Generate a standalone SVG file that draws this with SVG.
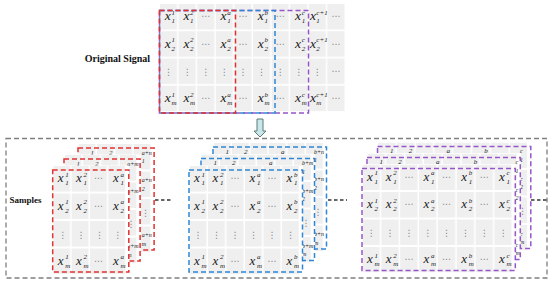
<svg xmlns="http://www.w3.org/2000/svg" width="550" height="284" viewBox="0 0 550 284">
<style>
.t{font-family:"Liberation Serif","Times New Roman",serif;font-weight:bold;font-size:9px;fill:#111}
.tl{font-size:10px}
.x{font-family:"Liberation Serif","Times New Roman",serif;font-style:italic;font-size:13px;fill:#1a1a1a}
.xt{font-size:13.5px}
.s{font-family:"Liberation Serif","Times New Roman",serif;font-style:italic;font-size:7px;fill:#1a1a1a}
.l{font-family:"Liberation Serif","Times New Roman",serif;font-style:italic;font-size:6px;fill:#1a1a1a}
.h{font-family:"DejaVu Sans",sans-serif;font-size:9px;fill:#8a8a8a;text-anchor:middle}
.bg{fill:#fff}
.dr{fill:none;stroke-width:1.5;stroke-dasharray:5 3}
.red{stroke:#e2312f}
.blu{stroke:#2f86d6}
.pur{stroke:#9656c9}
.out{fill:none;stroke:#7f7f7f;stroke-width:1.3;stroke-dasharray:5 3}
.con{fill:none;stroke:#333;stroke-width:1.3;stroke-dasharray:3.5 2.5}
.arr{fill:#c9e7e9;stroke:#5a7a7a;stroke-width:1}
</style>
<defs>
<pattern id="gT" patternUnits="userSpaceOnUse" x="160" y="4" width="18.6" height="27.25"><rect width="18.6" height="27.25" fill="#fff"/><rect width="17.1" height="25.5" fill="#efefef"/></pattern>
<pattern id="gR" patternUnits="userSpaceOnUse" x="0.5" y="-4" width="18.4" height="27.5"><rect width="18.4" height="27.5" fill="#fff"/><rect width="16.9" height="25.5" fill="#efefef"/></pattern>
<pattern id="gB" patternUnits="userSpaceOnUse" x="0.5" y="-4" width="18.5" height="27.5"><rect width="18.5" height="27.5" fill="#fff"/><rect width="17" height="25.5" fill="#efefef"/></pattern>
<pattern id="gP" patternUnits="userSpaceOnUse" x="0.5" y="-4" width="18.85" height="27.5"><rect width="18.85" height="27.5" fill="#fff"/><rect width="17.35" height="25.5" fill="#efefef"/></pattern>
</defs>

<!-- Original signal -->
<g id="original-signal">
<text class="t tl" x="150" y="62" text-anchor="end">Original Signal</text>
<rect x="160" y="4" width="186" height="107.5" fill="url(#gT)"/>
<text class="x xt" y="20.25"><tspan x="164.8">x</tspan><tspan x="183.4">x</tspan><tspan x="220.6">x</tspan><tspan x="257.8">x</tspan><tspan x="295">x</tspan><tspan x="310">x</tspan></text>
<text class="s"><tspan x="171.5" y="14.75">1</tspan><tspan x="171.5" y="23.25">1</tspan><tspan x="190.1" y="14.75">2</tspan><tspan x="190.1" y="23.25">1</tspan><tspan x="227.3" y="14.75">a</tspan><tspan x="227.3" y="23.25">1</tspan><tspan x="264.5" y="14.75">b</tspan><tspan x="264.5" y="23.25">1</tspan><tspan x="301.7" y="14.75">c</tspan><tspan x="301.7" y="23.25">1</tspan><tspan x="316.3" y="14.75">c+1</tspan><tspan x="316.3" y="23.25">1</tspan></text>
<text class="h" y="19.45"><tspan x="205.75">⋯</tspan><tspan x="242.95">⋯</tspan><tspan x="280.15">⋯</tspan><tspan x="335.95">⋯</tspan></text>
<text class="x xt" y="47.5"><tspan x="164.8">x</tspan><tspan x="183.4">x</tspan><tspan x="220.6">x</tspan><tspan x="257.8">x</tspan><tspan x="295">x</tspan><tspan x="310">x</tspan></text>
<text class="s"><tspan x="171.5" y="42">1</tspan><tspan x="171.5" y="50.5">2</tspan><tspan x="190.1" y="42">2</tspan><tspan x="190.1" y="50.5">2</tspan><tspan x="227.3" y="42">a</tspan><tspan x="227.3" y="50.5">2</tspan><tspan x="264.5" y="42">b</tspan><tspan x="264.5" y="50.5">2</tspan><tspan x="301.7" y="42">c</tspan><tspan x="301.7" y="50.5">2</tspan><tspan x="316.3" y="42">c+1</tspan><tspan x="316.3" y="50.5">2</tspan></text>
<text class="h" y="46.7"><tspan x="205.75">⋯</tspan><tspan x="242.95">⋯</tspan><tspan x="280.15">⋯</tspan><tspan x="335.95">⋯</tspan></text>
<text class="h" y="75.25"><tspan x="168.55">⋮</tspan><tspan x="187.15">⋮</tspan><tspan x="205.75">⋮</tspan><tspan x="224.35">⋮</tspan><tspan x="242.95">⋮</tspan><tspan x="261.55">⋮</tspan><tspan x="280.15">⋮</tspan><tspan x="298.75">⋮</tspan><tspan x="317.35">⋮</tspan></text>
<text class="h" x="335.95" y="73.95">⋯</text>
<text class="x xt" y="102"><tspan x="164.8">x</tspan><tspan x="183.4">x</tspan><tspan x="220.6">x</tspan><tspan x="257.8">x</tspan><tspan x="295">x</tspan><tspan x="310">x</tspan></text>
<text class="s"><tspan x="171.5" y="96.5">1</tspan><tspan x="171.5" y="105">m</tspan><tspan x="190.1" y="96.5">2</tspan><tspan x="190.1" y="105">m</tspan><tspan x="227.3" y="96.5">a</tspan><tspan x="227.3" y="105">m</tspan><tspan x="264.5" y="96.5">b</tspan><tspan x="264.5" y="105">m</tspan><tspan x="301.7" y="96.5">c</tspan><tspan x="301.7" y="105">m</tspan><tspan x="316.3" y="96.5">c+1</tspan><tspan x="316.3" y="105">m</tspan></text>
<text class="h" y="101.2"><tspan x="205.75">⋯</tspan><tspan x="242.95">⋯</tspan><tspan x="280.15">⋯</tspan><tspan x="335.95">⋯</tspan></text>
<rect class="dr pur" x="159.5" y="10.5" width="149" height="102.5"/>
<rect class="dr blu" x="159.5" y="10.5" width="115.5" height="102.5"/>
<rect class="dr red" x="159.5" y="10.5" width="76" height="102.5"/>
</g>

<g id="arrow"><path class="arr" d="M257,119 H263 V131 H266 L260,137 L254,131 H257 Z"/></g>

<g id="samples-frame">
<rect class="out" x="6" y="138.5" width="541" height="139.5"/>
<text class="t" x="9.5" y="203">Samples</text>
</g>

<!-- Red stack -->
<g id="red-back" transform="translate(78,148)">
<rect class="bg" x="0" y="-4.5" width="76.6" height="109"/>
<rect x="0.5" y="-4" width="72.1" height="108" fill="url(#gR)"/>
<text class="s" y="6.75"><tspan x="12.5">1</tspan><tspan x="30.9">2</tspan></text>
<text class="l"><tspan x="63.7" y="6.75">a+n</tspan><tspan x="63.7" y="15.25">1</tspan><tspan x="63.7" y="34.25">a+n</tspan><tspan x="63.7" y="42.75">2</tspan><tspan x="63.7" y="89.25">a+n</tspan><tspan x="63.7" y="97.75">m</tspan></text>
<text class="h" x="67.5" y="67.75">⋮</text>
<rect class="dr red" x="0" y="0" width="76.1" height="102"/>
</g>
<g id="red-middle" transform="translate(64,159)">
<rect class="bg" x="0" y="-4.5" width="76.6" height="109"/>
<rect x="0.5" y="-4" width="72.1" height="108" fill="url(#gR)"/>
<text class="s" y="6.75"><tspan x="12.5">1</tspan><tspan x="30.9">2</tspan></text>
<text class="l"><tspan x="63.2" y="6.75">a+m</tspan><tspan x="63.2" y="15.25">1</tspan><tspan x="63.2" y="34.25">a+m</tspan><tspan x="63.2" y="42.75">2</tspan><tspan x="63.2" y="89.25">a+m</tspan><tspan x="63.2" y="97.75">m</tspan></text>
<text class="h" x="67" y="67.75">⋮</text>
<rect class="dr red" x="0" y="0" width="76.1" height="102"/>
</g>
<g id="red-front" transform="translate(52.7,170)">
<rect class="bg" x="0" y="-4.5" width="76.6" height="109"/>
<rect x="0.5" y="-4" width="72.1" height="108" fill="url(#gR)"/>
<text class="x" y="12.25"><tspan x="5">x</tspan><tspan x="23.4">x</tspan><tspan x="60.2">x</tspan></text>
<text class="s"><tspan x="12.5" y="6.75">1</tspan><tspan x="12.5" y="15.25">1</tspan><tspan x="30.9" y="6.75">2</tspan><tspan x="30.9" y="15.25">1</tspan><tspan x="67.7" y="6.75">a</tspan><tspan x="67.7" y="15.25">1</tspan></text>
<text class="h" x="45.75" y="11.45">⋯</text>
<text class="x" y="39.75"><tspan x="5">x</tspan><tspan x="23.4">x</tspan><tspan x="60.2">x</tspan></text>
<text class="s"><tspan x="12.5" y="34.25">1</tspan><tspan x="12.5" y="42.75">2</tspan><tspan x="30.9" y="34.25">2</tspan><tspan x="30.9" y="42.75">2</tspan><tspan x="67.7" y="34.25">a</tspan><tspan x="67.7" y="42.75">2</tspan></text>
<text class="h" x="45.75" y="38.95">⋯</text>
<text class="h" y="67.75"><tspan x="9.95">⋮</tspan><tspan x="28.35">⋮</tspan><tspan x="46.75">⋮</tspan><tspan x="65.15">⋮</tspan></text>
<text class="x" y="94.75"><tspan x="5">x</tspan><tspan x="23.4">x</tspan><tspan x="60.2">x</tspan></text>
<text class="s"><tspan x="12.5" y="89.25">1</tspan><tspan x="12.5" y="97.75">m</tspan><tspan x="30.9" y="89.25">2</tspan><tspan x="30.9" y="97.75">m</tspan><tspan x="67.7" y="89.25">a</tspan><tspan x="67.7" y="97.75">m</tspan></text>
<text class="h" x="45.75" y="93.95">⋯</text>
<rect class="dr red" x="0" y="0" width="76.1" height="102"/>
</g>

<!-- Blue stack -->
<g id="blue-back" transform="translate(213,147)">
<rect class="bg" x="0" y="-4.5" width="114" height="109"/>
<rect x="0.5" y="-4" width="109.5" height="108" fill="url(#gB)"/>
<text class="s" y="6.75"><tspan x="12.5">1</tspan><tspan x="31">2</tspan><tspan x="68">a</tspan></text>
<text class="l"><tspan x="101" y="6.75">b+n</tspan><tspan x="101" y="15.25">1</tspan><tspan x="101" y="34.25">b+n</tspan><tspan x="101" y="42.75">2</tspan><tspan x="101" y="89.25">b+n</tspan><tspan x="101" y="97.75">m</tspan></text>
<text class="h" x="105" y="67.75">⋮</text>
<rect class="dr blu" x="0" y="0" width="113.5" height="102"/>
</g>
<g id="blue-middle" transform="translate(201,158.5)">
<rect class="bg" x="0" y="-4.5" width="114" height="109"/>
<rect x="0.5" y="-4" width="109.5" height="108" fill="url(#gB)"/>
<text class="s" y="6.75"><tspan x="12.5">1</tspan><tspan x="31">2</tspan><tspan x="68">a</tspan></text>
<text class="l"><tspan x="101" y="6.75">b+m</tspan><tspan x="101" y="15.25">1</tspan><tspan x="101" y="34.25">b+m</tspan><tspan x="101" y="42.75">2</tspan><tspan x="101" y="89.25">b+m</tspan><tspan x="101" y="97.75">m</tspan></text>
<text class="h" x="105" y="67.75">⋮</text>
<rect class="dr blu" x="0" y="0" width="113.5" height="102"/>
</g>
<g id="blue-front" transform="translate(189,170)">
<rect class="bg" x="0" y="-4.5" width="114" height="109"/>
<rect x="0.5" y="-4" width="109.5" height="108" fill="url(#gB)"/>
<text class="x" y="12.25"><tspan x="5">x</tspan><tspan x="23.5">x</tspan><tspan x="60.5">x</tspan><tspan x="97.5">x</tspan></text>
<text class="s"><tspan x="12.5" y="6.75">1</tspan><tspan x="12.5" y="15.25">1</tspan><tspan x="31" y="6.75">2</tspan><tspan x="31" y="15.25">1</tspan><tspan x="68" y="6.75">a</tspan><tspan x="68" y="15.25">1</tspan><tspan x="105" y="6.75">b</tspan><tspan x="105" y="15.25">1</tspan></text>
<text class="h" y="11.45"><tspan x="46">⋯</tspan><tspan x="83">⋯</tspan></text>
<text class="x" y="39.75"><tspan x="5">x</tspan><tspan x="23.5">x</tspan><tspan x="60.5">x</tspan><tspan x="97.5">x</tspan></text>
<text class="s"><tspan x="12.5" y="34.25">1</tspan><tspan x="12.5" y="42.75">2</tspan><tspan x="31" y="34.25">2</tspan><tspan x="31" y="42.75">2</tspan><tspan x="68" y="34.25">a</tspan><tspan x="68" y="42.75">2</tspan><tspan x="105" y="34.25">b</tspan><tspan x="105" y="42.75">2</tspan></text>
<text class="h" y="38.95"><tspan x="46">⋯</tspan><tspan x="83">⋯</tspan></text>
<text class="h" y="67.75"><tspan x="9">⋮</tspan><tspan x="27.5">⋮</tspan><tspan x="46">⋮</tspan><tspan x="64.5">⋮</tspan><tspan x="83">⋮</tspan><tspan x="101.5">⋮</tspan></text>
<text class="x" y="94.75"><tspan x="5">x</tspan><tspan x="23.5">x</tspan><tspan x="60.5">x</tspan><tspan x="97.5">x</tspan></text>
<text class="s"><tspan x="12.5" y="89.25">1</tspan><tspan x="12.5" y="97.75">m</tspan><tspan x="31" y="89.25">2</tspan><tspan x="31" y="97.75">m</tspan><tspan x="68" y="89.25">a</tspan><tspan x="68" y="97.75">m</tspan><tspan x="105" y="89.25">b</tspan><tspan x="105" y="97.75">m</tspan></text>
<text class="h" y="93.95"><tspan x="46">⋯</tspan><tspan x="83">⋯</tspan></text>
<rect class="dr blu" x="0" y="0" width="113.5" height="102"/>
</g>

<!-- Purple stack -->
<g id="purple-back" transform="translate(377.5,146.5)">
<rect class="bg" x="0" y="-4.5" width="153.8" height="109"/>
<rect x="0.5" y="-4" width="149.3" height="108" fill="url(#gP)"/>
<text class="s" y="6.75"><tspan x="12.5">1</tspan><tspan x="31.35">2</tspan><tspan x="69.05">a</tspan><tspan x="106.75">b</tspan></text>
<text class="l"><tspan x="142.5" y="6.75">c</tspan><tspan x="142.5" y="15.25">1</tspan><tspan x="142.5" y="34.25">c</tspan><tspan x="142.5" y="42.75">2</tspan><tspan x="142.5" y="89.25">c</tspan><tspan x="142.5" y="97.75">m</tspan></text>
<text class="h" x="145" y="67.75">⋮</text>
<rect class="dr pur" x="0" y="0" width="153.3" height="102"/>
</g>
<g id="purple-middle" transform="translate(367,157.5)">
<rect class="bg" x="0" y="-4.5" width="153.8" height="109"/>
<rect x="0.5" y="-4" width="149.3" height="108" fill="url(#gP)"/>
<text class="s" y="6.75"><tspan x="12.5">1</tspan><tspan x="31.35">2</tspan><tspan x="69.05">a</tspan><tspan x="106.75">b</tspan></text>
<text class="l"><tspan x="148.5" y="6.75">c</tspan><tspan x="148.5" y="15.25">1</tspan><tspan x="148.5" y="34.25">c</tspan><tspan x="148.5" y="42.75">2</tspan><tspan x="148.5" y="89.25">c</tspan><tspan x="148.5" y="97.75">m</tspan></text>
<rect class="dr pur" x="0" y="0" width="153.3" height="102"/>
</g>
<g id="purple-front" transform="translate(362,168.5)">
<rect class="bg" x="0" y="-4.5" width="153.8" height="109"/>
<rect x="0.5" y="-4" width="149.3" height="108" fill="url(#gP)"/>
<text class="x" y="12.25"><tspan x="5">x</tspan><tspan x="23.85">x</tspan><tspan x="61.55">x</tspan><tspan x="99.25">x</tspan><tspan x="136.95">x</tspan></text>
<text class="s"><tspan x="12.5" y="6.75">1</tspan><tspan x="12.5" y="15.25">1</tspan><tspan x="31.35" y="6.75">2</tspan><tspan x="31.35" y="15.25">1</tspan><tspan x="69.05" y="6.75">a</tspan><tspan x="69.05" y="15.25">1</tspan><tspan x="106.75" y="6.75">b</tspan><tspan x="106.75" y="15.25">1</tspan><tspan x="144.45" y="6.75">c</tspan><tspan x="144.45" y="15.25">1</tspan></text>
<text class="h" y="11.45"><tspan x="46.9">⋯</tspan><tspan x="84.6">⋯</tspan><tspan x="122.3">⋯</tspan></text>
<text class="x" y="39.75"><tspan x="5">x</tspan><tspan x="23.85">x</tspan><tspan x="61.55">x</tspan><tspan x="99.25">x</tspan><tspan x="136.95">x</tspan></text>
<text class="s"><tspan x="12.5" y="34.25">1</tspan><tspan x="12.5" y="42.75">2</tspan><tspan x="31.35" y="34.25">2</tspan><tspan x="31.35" y="42.75">2</tspan><tspan x="69.05" y="34.25">a</tspan><tspan x="69.05" y="42.75">2</tspan><tspan x="106.75" y="34.25">b</tspan><tspan x="106.75" y="42.75">2</tspan><tspan x="144.45" y="34.25">c</tspan><tspan x="144.45" y="42.75">2</tspan></text>
<text class="h" y="38.95"><tspan x="46.9">⋯</tspan><tspan x="84.6">⋯</tspan><tspan x="122.3">⋯</tspan></text>
<text class="h" y="67.75"><tspan x="9.2">⋮</tspan><tspan x="28.05">⋮</tspan><tspan x="46.9">⋮</tspan><tspan x="65.75">⋮</tspan><tspan x="84.6">⋮</tspan><tspan x="103.45">⋮</tspan><tspan x="122.3">⋮</tspan><tspan x="141.15">⋮</tspan></text>
<text class="x" y="94.75"><tspan x="5">x</tspan><tspan x="23.85">x</tspan><tspan x="61.55">x</tspan><tspan x="99.25">x</tspan><tspan x="136.95">x</tspan></text>
<text class="s"><tspan x="12.5" y="89.25">1</tspan><tspan x="12.5" y="97.75">m</tspan><tspan x="31.35" y="89.25">2</tspan><tspan x="31.35" y="97.75">m</tspan><tspan x="69.05" y="89.25">a</tspan><tspan x="69.05" y="97.75">m</tspan><tspan x="106.75" y="89.25">b</tspan><tspan x="106.75" y="97.75">m</tspan><tspan x="144.45" y="89.25">c</tspan><tspan x="144.45" y="97.75">m</tspan></text>
<text class="h" y="93.95"><tspan x="46.9">⋯</tspan><tspan x="84.6">⋯</tspan><tspan x="122.3">⋯</tspan></text>
<rect class="dr pur" x="0" y="0" width="153.3" height="102"/>
</g>

<g id="connectors">
<line class="con" x1="155" y1="200" x2="172" y2="200"/>
<line class="con" x1="328" y1="200" x2="347" y2="200"/>
<line class="con" x1="531" y1="200" x2="547" y2="200"/>
</g>
</svg>
